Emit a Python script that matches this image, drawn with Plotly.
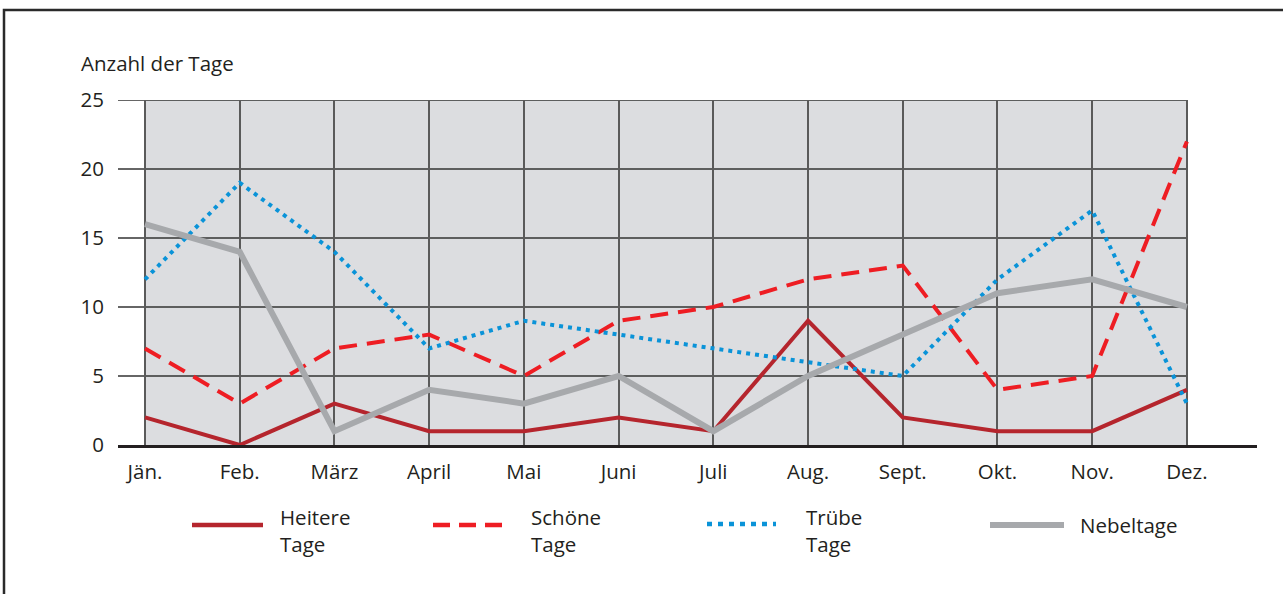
import plotly.graph_objects as go

# Anzahl der Tage pro Monat
monate = ['Jän.', 'Feb.', 'März', 'April', 'Mai', 'Juni', 'Juli', 'Aug.', 'Sept.', 'Okt.', 'Nov.', 'Dez.']
heitere = [2, 0, 3, 1, 1, 2, 1, 9, 2, 1, 1, 4]
schoene = [7, 3, 7, 8, 5, 9, 10, 12, 13, 4, 5, 22]
truebe = [12, 19, 14, 7, 9, 8, 7, 6, 5, 12, 17, 3]
nebel = [16, 14, 1, 4, 3, 5, 1, 5, 8, 11, 12, 10]
ytick = [0, 5, 10, 15, 20, 25]

W, H = 1283, 594
L, R, T, B = 118, 26, 100, 149
FONT = 'Open Sans'
FS = 20.5
TXT = '#231f20'

x = list(range(len(monate)))
xr = [-0.285, 11.74]


def xp(px):
    return (px - L) / (W - L - R)


def yp(py):
    return (H - B - py) / (H - T - B)


serien = [
    ('Heitere Tage', heitere, dict(color='#b5252d', width=4)),
    ('Schöne Tage', schoene, dict(color='#ee1d23', width=4, dash='18px,10px')),
    ('Trübe Tage', truebe, dict(color='#0a93d8', width=4, dash='4px,5px')),
    ('Nebeltage', nebel, dict(color='#a7a9ac', width=6)),
]

fig = go.Figure()
for name, werte, line in serien:
    fig.add_trace(go.Scatter(x=x, y=werte, mode='lines', name=name, line=line,
                             showlegend=False, hoverinfo='y'))

shapes = []
# grauer Hintergrund nur zwischen Jän. und Dez.
shapes.append(dict(type='rect', xref='x', yref='y', x0=0, x1=11, y0=0, y1=25,
                   fillcolor='#dcdde0', line=dict(width=0), layer='below'))
for v in ytick[1:]:
    shapes.append(dict(type='line', xref='x', yref='y', x0=xr[0], x1=11, y0=v, y1=v,
                       line=dict(color='#333333', width=1.4), layer='below'))
# Rahmen
shapes.append(dict(type='rect', xref='paper', yref='paper', x0=xp(4), x1=xp(1300),
                   y0=yp(620), y1=yp(10), line=dict(color='#2a2a2a', width=2.5)))

# Legende (von Hand, wie im Original)
leg = [
    (192, 263, 525, dict(color='#b5252d', width=4.5), 278, 'Heitere<br>Tage'),
    (433, 502, 525, dict(color='#ee1d23', width=4.5, dash='17px,9px'), 529, 'Schöne<br>Tage'),
    (707, 776, 524, dict(color='#0a93d8', width=4.5, dash='5px,6px'), 804, 'Trübe<br>Tage'),
    (990, 1064, 525, dict(color='#a7a9ac', width=6), 1078, 'Nebeltage'),
]
annotations = []
for x0, x1, yy, ln, tx, text in leg:
    shapes.append(dict(type='line', xref='paper', yref='paper', x0=xp(x0), x1=xp(x1),
                       y0=yp(yy), y1=yp(yy), line=ln))
    annotations.append(dict(xref='paper', yref='paper', x=xp(tx), y=yp(530 if '<br>' in text else 525),
                            text=text, showarrow=False, xanchor='left', yanchor='middle',
                            align='left', font=dict(family=FONT, size=FS, color=TXT)))

annotations.append(dict(xref='paper', yref='paper', x=xp(79), y=yp(63), text='Anzahl der Tage',
                        showarrow=False, xanchor='left', yanchor='middle',
                        font=dict(family=FONT, size=FS, color=TXT)))

fig.update_layout(
    width=W, height=H,
    margin=dict(l=L, r=R, t=T, b=B),
    paper_bgcolor='white', plot_bgcolor='white',
    font=dict(family=FONT, size=FS, color=TXT),
    shapes=shapes, annotations=annotations,
    xaxis=dict(range=xr, tickvals=x, ticktext=monate, showgrid=True, gridcolor='#5a5a5a',
               gridwidth=1.6, zeroline=False, showline=True, linecolor='#231f20', linewidth=3,
               ticks='', ticklabelstandoff=6, fixedrange=True),
    yaxis=dict(range=[0, 25], tickvals=ytick, showgrid=False, zeroline=False, showline=False,
               ticks='', ticklabelstandoff=13, fixedrange=True),
)

fig.write_html('out.html', config={'displayModeBar': False},
               post_script="document.body.style.margin='0px';")
